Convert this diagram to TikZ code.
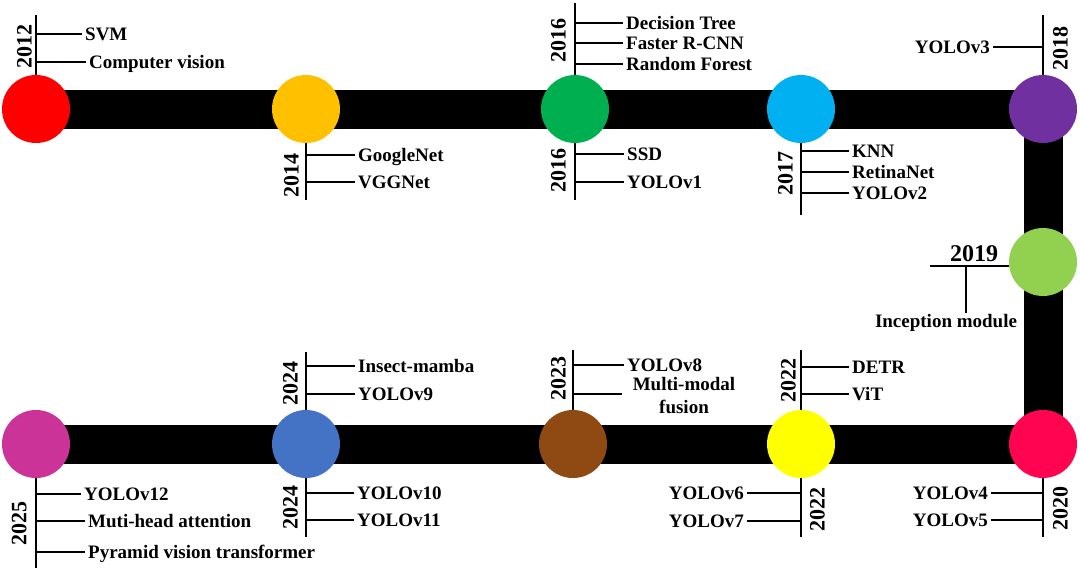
\documentclass[tikz,border=0pt]{standalone}
\usepackage{fontspec}
\setmainfont{Liberation Serif}
\usetikzlibrary{positioning,backgrounds}
\definecolor{red12}{HTML}{FF0000}
\definecolor{orange14}{HTML}{FFC000}
\definecolor{green16}{HTML}{00B050}
\definecolor{cyan17}{HTML}{00B0F0}
\definecolor{purple18}{HTML}{7030A0}
\definecolor{lime19}{HTML}{92D050}
\definecolor{crimson20}{HTML}{FF0551}
\definecolor{yellow22}{HTML}{FFFF00}
\definecolor{brown23}{HTML}{8F4912}
\definecolor{blue24}{HTML}{4472C4}
\definecolor{magenta25}{HTML}{CC3399}

\begin{document}
\begin{tikzpicture}[x=1pt,y=-1pt,
  dot/.style={circle,inner sep=0pt,minimum size=68pt},
  item/.style={font=\fontsize{19}{23}\selectfont\bfseries,text height=12.6pt,text depth=0pt,inner xsep=3pt,inner ysep=2pt},
  year/.style={font=\fontsize{22}{24}\selectfont\bfseries,rotate=90,text height=15pt,text depth=0pt,inner sep=0pt},
  stem/.style={line width=1.6pt},
  bar/.style={line width=39pt,line join=miter}]
\useasboundingbox (0,0) rectangle (1080,571);

% milestones
\node[dot,fill=red12] (c2012) at (36,109) {};
\node[dot,fill=orange14] (c2014) at (306,109) {};
\node[dot,fill=green16] (c2016) at (575,109) {};
\node[dot,fill=cyan17] (c2017) at (801,109) {};
\node[dot,fill=purple18] (c2018) at (1043,109) {};
\node[dot,fill=lime19] (c2019) at (1043,262) {};
\node[dot,fill=crimson20] (c2020) at (1043,444) {};
\node[dot,fill=yellow22] (c2022) at (801,444) {};
\node[dot,fill=brown23] (c2023) at (573,444) {};
\node[dot,fill=blue24] (c2024) at (306,444) {};
\node[dot,fill=magenta25] (c2025) at (36,444) {};
\begin{scope}[on background layer]
\draw[bar] (c2012.center) -- (c2018.center) -- (c2020.center) -- (c2025.center);
\end{scope}

% 2012
\coordinate (e2012) at (36,15);
\draw[stem] (c2012) -- (e2012);
\node[year] (y2012) at (24,46) {2012};
\node[item,anchor=west] (svm) at (82,34) {SVM};
\node[item,anchor=west] (cv) at (86,62) {Computer vision};
\draw[stem] (svm.west) -- (svm.west -| c2012);
\draw[stem] (cv.west) -- (cv.west -| c2012);

% 2014
\coordinate (e2014) at (306,200);
\draw[stem] (c2014) -- (e2014);
\node[year] (y2014) at (291,175) {2014};
\node[item,anchor=west] (gnet) at (355,155) {GoogleNet};
\node[item,anchor=west] (vgg) at (355,182) {VGGNet};
\draw[stem] (gnet.west) -- (gnet.west -| c2014);
\draw[stem] (vgg.west) -- (vgg.west -| c2014);

% 2016
\coordinate (e2016a) at (575,3);
\coordinate (e2016b) at (575,200);
\draw[stem] (c2016) -- (e2016a);
\draw[stem] (c2016) -- (e2016b);
\node[year] (y2016a) at (558,40) {2016};
\node[year] (y2016b) at (558,170) {2016};
\node[item,anchor=west] (dtree) at (623,23) {Decision Tree};
\node[item,anchor=west] (frcnn) at (623,43) {Faster R-CNN};
\node[item,anchor=west] (rforest) at (623,64) {Random Forest};
\node[item,anchor=west] (ssd) at (624,154) {SSD};
\node[item,anchor=west] (yolo1) at (624,182) {YOLOv1};
\foreach \n in {dtree,frcnn,rforest,ssd,yolo1}
  \draw[stem] (\n.west) -- (\n.west -| c2016);

% 2017
\coordinate (e2017) at (801,215);
\draw[stem] (c2017) -- (e2017);
\node[year] (y2017) at (785,173) {2017};
\node[item,anchor=west] (knn) at (849,151) {KNN};
\node[item,anchor=west] (retina) at (849,172) {RetinaNet};
\node[item,anchor=west] (yolo2) at (849,193) {YOLOv2};
\foreach \n in {knn,retina,yolo2}
  \draw[stem] (\n.west) -- (\n.west -| c2017);

% 2018
\coordinate (e2018) at (1043,15);
\draw[stem] (c2018) -- (e2018);
\node[year] (y2018) at (1060,48) {2018};
\node[item,anchor=east] (yolo3) at (993,47) {YOLOv3};
\draw[stem] (yolo3.east) -- (yolo3.east -| c2018);

% 2019
\coordinate (k2019) at (930,266);
\coordinate (j2019) at (966,266);
\draw[stem] (k2019) -- (k2019 -| c2019.west);
\node[font=\fontsize{24}{26}\selectfont\bfseries,anchor=base] (y2019) at (974,261) {2019};
\node[item] (incep) at (946,321) {Inception module};
\draw[stem] (j2019) -- (j2019 |- incep.north);

% 2020
\coordinate (e2020) at (1043,537);
\draw[stem] (c2020) -- (e2020);
\node[year] (y2020) at (1060,508) {2020};
\node[item,anchor=east] (yolo4) at (991,493) {YOLOv4};
\node[item,anchor=east] (yolo5) at (991,520) {YOLOv5};
\draw[stem] (yolo4.east) -- (yolo4.east -| c2020);
\draw[stem] (yolo5.east) -- (yolo5.east -| c2020);

% 2022
\coordinate (e2022a) at (801,350);
\coordinate (e2022b) at (801,537);
\draw[stem] (c2022) -- (e2022a);
\draw[stem] (c2022) -- (e2022b);
\node[year] (y2022a) at (788,380) {2022};
\node[year] (y2022b) at (817,509) {2022};
\node[item,anchor=west] (detr) at (849,367) {DETR};
\node[item,anchor=west] (vit) at (849,394) {ViT};
\draw[stem] (detr.west) -- (detr.west -| c2022);
\draw[stem] (vit.west) -- (vit.west -| c2022);
\node[item,anchor=east] (yolo6) at (747,493) {YOLOv6};
\node[item,anchor=east] (yolo7) at (747,521) {YOLOv7};
\draw[stem] (yolo6.east) -- (yolo6.east -| c2022);
\draw[stem] (yolo7.east) -- (yolo7.east -| c2022);

% 2023
\coordinate (e2023) at (573,350);
\coordinate (t2023) at (622,394);
\draw[stem] (c2023) -- (e2023);
\node[year] (y2023) at (558,378) {2023};
\node[item,anchor=west] (yolo8) at (624,365) {YOLOv8};
\node[font=\fontsize{19}{23}\selectfont\bfseries,align=center,inner sep=0pt] (mmf) at (684,396) {Multi-modal\\fusion};
\draw[stem] (yolo8.west) -- (yolo8.west -| c2023);
\draw[stem] (t2023) -- (t2023 -| c2023);

% 2024
\coordinate (e2024a) at (306,352);
\coordinate (e2024b) at (306,537);
\draw[stem] (c2024) -- (e2024a);
\draw[stem] (c2024) -- (e2024b);
\node[year] (y2024a) at (290,383) {2024};
\node[year] (y2024b) at (290,507) {2024};
\node[item,anchor=west] (mamba) at (355,366) {Insect-mamba};
\node[item,anchor=west] (yolo9) at (355,394) {YOLOv9};
\node[item,anchor=west] (yolo10) at (354,493) {YOLOv10};
\node[item,anchor=west] (yolo11) at (354,520) {YOLOv11};
\foreach \n in {mamba,yolo9,yolo10,yolo11}
  \draw[stem] (\n.west) -- (\n.west -| c2024);

% 2025
\coordinate (e2025) at (36,568);
\draw[stem] (c2025) -- (e2025);
\node[year] (y2025) at (19,523) {2025};
\node[item,anchor=west] (yolo12) at (81,494) {YOLOv12};
\node[item,anchor=west] (mha) at (85,521) {Muti-head attention};
\node[item,anchor=west] (pvt) at (85,552) {Pyramid vision transformer};
\foreach \n in {yolo12,mha,pvt}
  \draw[stem] (\n.west) -- (\n.west -| c2025);
\end{tikzpicture}
\end{document}
